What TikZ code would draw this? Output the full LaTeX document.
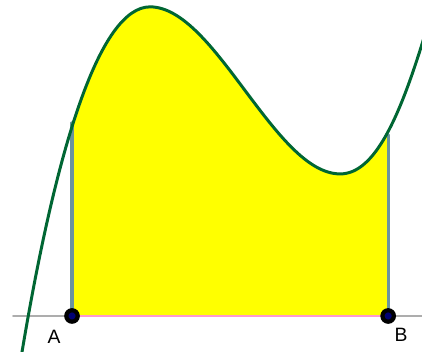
\documentclass[tikz,border=0pt]{standalone}
\usepackage{fontspec}
\setmainfont{Liberation Sans}
\usetikzlibrary{calc}
\usepackage{tkz-euclide}
\definecolor{CurveClr}{rgb}{0,0.4,0.2}
\definecolor{SegClr}{rgb}{0.42,0.58,0.62}
\definecolor{AxisClr}{rgb}{0.68,0.68,0.68}
\definecolor{AreaClr}{rgb}{1,1,0}
\definecolor{BaseClr}{rgb}{1,0.6,0.8}

\begin{document}
\begin{tikzpicture}[scale=.02]
\useasboundingbox (0,0) rectangle (422,352);
\tikzset{lbl/.style={font=\fontsize{11}{11}\selectfont,inner sep=0pt}}

\tkzDefPoints{72/36/A,388/36/B,72/229/A',388/217/B',13/36/L,422/36/R}
\tkzDefPoints{21.5/-3/s,150/345/M,340/178/m,425/318/e}

\def\curvepath{(s) .. controls (56.5,207) and (100,345) .. (M)
  .. controls (215,345) and (275,178) .. (m)
  .. controls (375,178) and (400,235.5) .. (e)}

\begin{scope}
\clip (A) rectangle (388,352);
\fill[AreaClr] \curvepath -- (425,35) -- (18,35) -- cycle;
\end{scope}

\tkzDrawSegments[AxisClr,line width=1.1pt](L,A B,R)
\tkzDrawSegment[BaseClr,line width=0.9pt](A,B)
\tkzDrawSegments[SegClr,line width=1.8pt](A,A' B,B')

\begin{scope}
\clip (0,0) rectangle (422,352);
\draw[CurveClr,line width=1.7pt] \curvepath;
\end{scope}

\tkzDrawPoints[size=6.5,color=black,fill=blue!45!black,line width=2.4pt](A,B)

\node[lbl] (labA) at (54,15) {A};
\node[lbl] (labB) at (401,17) {B};
\end{tikzpicture}
\end{document}
